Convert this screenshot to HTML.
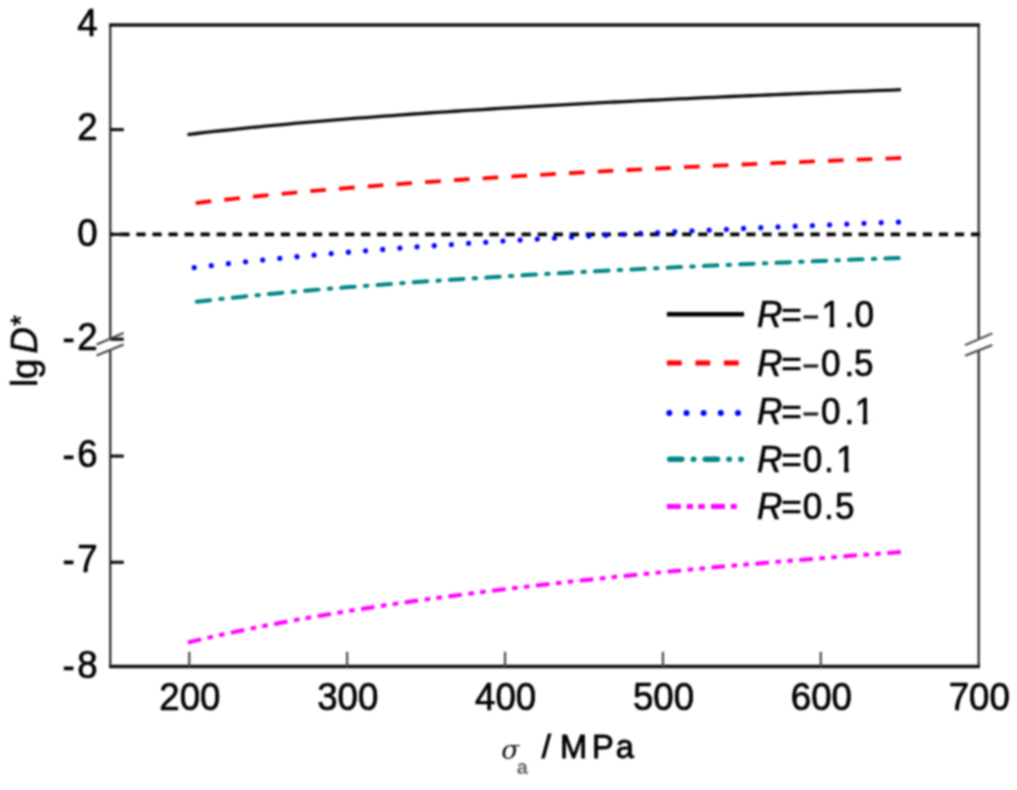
<!DOCTYPE html>
<html><head><meta charset="utf-8"><style>html,body{margin:0;padding:0;background:#fff;}svg{display:block;}</style></head>
<body>
<svg width="1017" height="790" viewBox="0 0 1017 790">
<rect width="100%" height="100%" fill="#fff"/>
<defs><filter id="bl" filterUnits="userSpaceOnUse" x="0" y="0" width="1017" height="790" color-interpolation-filters="sRGB"><feConvolveMatrix order="5" kernelMatrix="1 4 6 4 1 4 16 24 16 4 6 24 36 24 6 4 16 24 16 4 1 4 6 4 1" edgeMode="none"/></filter></defs>
<defs><clipPath id="no-foot" clipPathUnits="userSpaceOnUse"><rect x="-20" y="-60" width="60" height="55.8"/><rect x="8.4" y="-4.5" width="4.9" height="8.5"/></clipPath></defs>
<g filter="url(#bl)">
<line x1="110.3" y1="234.40" x2="981.5" y2="234.40" stroke="#000" stroke-width="3.6" stroke-dasharray="9.2 6.85" stroke-dashoffset="6.00"/>
<path d="M187.50,134.56 L196.42,133.50 L205.34,132.47 L214.26,131.47 L223.18,130.49 L232.09,129.54 L241.01,128.61 L249.93,127.70 L258.85,126.81 L267.77,125.95 L276.69,125.10 L285.61,124.27 L294.52,123.46 L303.44,122.67 L312.36,121.89 L321.28,121.13 L330.20,120.38 L339.12,119.65 L348.04,118.93 L356.96,118.23 L365.88,117.54 L374.79,116.86 L383.71,116.19 L392.63,115.54 L401.55,114.89 L410.47,114.26 L419.39,113.63 L428.31,113.02 L437.23,112.42 L446.14,111.82 L455.06,111.24 L463.98,110.66 L472.90,110.10 L481.82,109.54 L490.74,108.99 L499.66,108.44 L508.57,107.91 L517.49,107.38 L526.41,106.86 L535.33,106.35 L544.25,105.84 L553.17,105.34 L562.09,104.85 L571.01,104.36 L579.92,103.88 L588.84,103.40 L597.76,102.93 L606.68,102.47 L615.60,102.01 L624.52,101.56 L633.44,101.11 L642.36,100.67 L651.27,100.24 L660.19,99.81 L669.11,99.38 L678.03,98.96 L686.95,98.54 L695.87,98.13 L704.79,97.72 L713.71,97.32 L722.62,96.92 L731.54,96.52 L740.46,96.13 L749.38,95.74 L758.30,95.36 L767.22,94.98 L776.14,94.60 L785.06,94.23 L793.98,93.86 L802.89,93.50 L811.81,93.14 L820.73,92.78 L829.65,92.42 L838.57,92.07 L847.49,91.72 L856.41,91.38 L865.33,91.04 L874.24,90.70 L883.16,90.36 L892.08,90.03 L901.00,89.70" fill="none" stroke="#111" stroke-width="3.3"/>
<path d="M195.70,203.06 L204.52,202.01 L213.34,200.99 L222.16,199.99 L230.98,199.02 L239.81,198.08 L248.63,197.15 L257.45,196.25 L266.27,195.37 L275.09,194.50 L283.91,193.66 L292.73,192.83 L301.56,192.02 L310.38,191.23 L319.20,190.45 L328.02,189.69 L336.84,188.95 L345.66,188.21 L354.48,187.49 L363.30,186.79 L372.12,186.09 L380.95,185.41 L389.77,184.74 L398.59,184.08 L407.41,183.44 L416.23,182.80 L425.05,182.17 L433.87,181.56 L442.70,180.95 L451.52,180.35 L460.34,179.76 L469.16,179.18 L477.98,178.61 L486.80,178.05 L495.62,177.50 L504.44,176.95 L513.26,176.41 L522.09,175.88 L530.91,175.35 L539.73,174.83 L548.55,174.32 L557.37,173.82 L566.19,173.32 L575.01,172.83 L583.84,172.34 L592.66,171.86 L601.48,171.39 L610.30,170.92 L619.12,170.46 L627.94,170.00 L636.76,169.55 L645.58,169.10 L654.40,168.66 L663.23,168.23 L672.05,167.80 L680.87,167.37 L689.69,166.95 L698.51,166.53 L707.33,166.12 L716.15,165.71 L724.97,165.30 L733.80,164.90 L742.62,164.50 L751.44,164.11 L760.26,163.72 L769.08,163.34 L777.90,162.96 L786.72,162.58 L795.55,162.21 L804.37,161.84 L813.19,161.47 L822.01,161.11 L830.83,160.75 L839.65,160.39 L848.47,160.04 L857.29,159.69 L866.12,159.34 L874.94,159.00 L883.76,158.66 L892.58,158.32 L901.40,157.98" fill="none" stroke="#f00" stroke-width="3.8" stroke-linecap="butt" stroke-dasharray="15.637 13.171"/>
<path d="M194.20,267.63 L203.00,266.57 L211.81,265.54 L220.61,264.53 L229.41,263.55 L238.22,262.59 L247.02,261.66 L255.83,260.75 L264.63,259.85 L273.43,258.98 L282.24,258.13 L291.04,257.29 L299.84,256.48 L308.65,255.67 L317.45,254.89 L326.26,254.12 L335.06,253.37 L343.86,252.62 L352.67,251.90 L361.47,251.18 L370.27,250.48 L379.08,249.79 L387.88,249.12 L396.69,248.45 L405.49,247.80 L414.29,247.16 L423.10,246.52 L431.90,245.90 L440.70,245.29 L449.51,244.68 L458.31,244.09 L467.12,243.50 L475.92,242.93 L484.72,242.36 L493.53,241.80 L502.33,241.24 L511.13,240.70 L519.94,240.16 L528.74,239.63 L537.55,239.11 L546.35,238.59 L555.15,238.08 L563.96,237.58 L572.76,237.08 L581.56,236.59 L590.37,236.11 L599.17,235.63 L607.98,235.16 L616.78,234.69 L625.58,234.23 L634.39,233.77 L643.19,233.32 L651.99,232.88 L660.80,232.44 L669.60,232.00 L678.41,231.57 L687.21,231.14 L696.01,230.72 L704.82,230.30 L713.62,229.89 L722.42,229.48 L731.23,229.08 L740.03,228.68 L748.84,228.28 L757.64,227.89 L766.44,227.50 L775.25,227.12 L784.05,226.74 L792.86,226.36 L801.66,225.99 L810.46,225.62 L819.27,225.25 L828.07,224.89 L836.87,224.53 L845.68,224.17 L854.48,223.82 L863.28,223.47 L872.09,223.12 L880.89,222.77 L889.70,222.43 L898.50,222.10" fill="none" stroke="#00f" stroke-width="5.3" stroke-linecap="round" stroke-dasharray="0.010 17.206"/>
<path d="M196.70,301.77 L205.48,300.75 L214.27,299.76 L223.05,298.79 L231.83,297.85 L240.62,296.93 L249.40,296.04 L258.19,295.16 L266.97,294.30 L275.75,293.47 L284.54,292.65 L293.32,291.85 L302.11,291.06 L310.89,290.29 L319.67,289.54 L328.46,288.80 L337.24,288.07 L346.02,287.36 L354.81,286.66 L363.59,285.98 L372.38,285.30 L381.16,284.64 L389.94,283.99 L398.73,283.35 L407.51,282.72 L416.29,282.10 L425.08,281.49 L433.86,280.89 L442.64,280.30 L451.43,279.72 L460.21,279.15 L469.00,278.59 L477.78,278.03 L486.56,277.49 L495.35,276.95 L504.13,276.41 L512.91,275.89 L521.70,275.37 L530.48,274.86 L539.27,274.36 L548.05,273.86 L556.83,273.37 L565.62,272.89 L574.40,272.41 L583.18,271.94 L591.97,271.47 L600.75,271.01 L609.54,270.55 L618.32,270.10 L627.10,269.66 L635.89,269.22 L644.67,268.78 L653.45,268.35 L662.24,267.93 L671.02,267.51 L679.81,267.09 L688.59,266.68 L697.37,266.28 L706.16,265.87 L714.94,265.48 L723.72,265.08 L732.51,264.69 L741.29,264.31 L750.08,263.93 L758.86,263.55 L767.64,263.17 L776.43,262.80 L785.21,262.43 L794.00,262.07 L802.78,261.71 L811.56,261.35 L820.35,261.00 L829.13,260.65 L837.91,260.30 L846.70,259.96 L855.48,259.62 L864.27,259.28 L873.05,258.95 L881.83,258.61 L890.62,258.29 L899.40,257.96" fill="none" stroke="#008585" stroke-width="4" stroke-linecap="round" stroke-dasharray="13.545 10.184 2.508 10.084"/>
<path d="M187.90,642.52 L196.82,640.39 L205.74,638.31 L214.66,636.28 L223.57,634.31 L232.49,632.39 L241.41,630.51 L250.33,628.68 L259.25,626.89 L268.17,625.14 L277.09,623.44 L286.01,621.76 L294.93,620.13 L303.84,618.53 L312.76,616.96 L321.68,615.42 L330.60,613.92 L339.52,612.44 L348.44,610.99 L357.36,609.57 L366.27,608.17 L375.19,606.80 L384.11,605.45 L393.03,604.13 L401.95,602.83 L410.87,601.55 L419.79,600.29 L428.71,599.05 L437.62,597.84 L446.54,596.64 L455.46,595.46 L464.38,594.29 L473.30,593.15 L482.22,592.02 L491.14,590.91 L500.06,589.81 L508.98,588.73 L517.89,587.67 L526.81,586.62 L535.73,585.58 L544.65,584.56 L553.57,583.55 L562.49,582.55 L571.41,581.57 L580.33,580.60 L589.24,579.64 L598.16,578.69 L607.08,577.76 L616.00,576.83 L624.92,575.92 L633.84,575.02 L642.76,574.13 L651.67,573.25 L660.59,572.38 L669.51,571.51 L678.43,570.66 L687.35,569.82 L696.27,568.99 L705.19,568.16 L714.11,567.35 L723.02,566.54 L731.94,565.74 L740.86,564.95 L749.78,564.17 L758.70,563.40 L767.62,562.63 L776.54,561.87 L785.46,561.12 L794.38,560.38 L803.29,559.64 L812.21,558.91 L821.13,558.19 L830.05,557.47 L838.97,556.76 L847.89,556.06 L856.81,555.36 L865.73,554.67 L874.64,553.99 L883.56,553.31 L892.48,552.64 L901.40,551.97" fill="none" stroke="#f0f" stroke-width="4" stroke-linecap="butt" stroke-dasharray="13.588 6.541 5.577 6.287 5.577 6.541"/>
<g stroke="#111" fill="none">
<line x1="109.1" y1="25.0" x2="979.9000000000001" y2="25.0" stroke-width="3.6"/>
<line x1="109.1" y1="666.5" x2="979.9000000000001" y2="666.5" stroke-width="3.6"/>
<line x1="110.3" y1="25.0" x2="110.3" y2="339.6" stroke-width="2"/>
<line x1="110.3" y1="350.0" x2="110.3" y2="665.8" stroke-width="2"/>
<line x1="978.7" y1="25.0" x2="978.7" y2="338.6" stroke-width="2"/>
<line x1="978.7" y1="350.0" x2="978.7" y2="665.8" stroke-width="2"/>
<line x1="110.3" y1="129.60" x2="123.8" y2="129.60" stroke-width="3.2"/>
<line x1="110.3" y1="234.40" x2="123.8" y2="234.40" stroke-width="3.2"/>
<line x1="110.3" y1="339.20" x2="123.8" y2="339.20" stroke-width="3.2"/>
<line x1="110.3" y1="456.10" x2="123.8" y2="456.10" stroke-width="3.2"/>
<line x1="110.3" y1="562.30" x2="123.8" y2="562.30" stroke-width="3.2"/>
<line x1="189.25" y1="666.5" x2="189.25" y2="651.8" stroke-width="2.4" stroke="#555"/>
<line x1="347.14" y1="666.5" x2="347.14" y2="651.8" stroke-width="2.4" stroke="#555"/>
<line x1="505.03" y1="666.5" x2="505.03" y2="651.8" stroke-width="2.4" stroke="#555"/>
<line x1="662.92" y1="666.5" x2="662.92" y2="651.8" stroke-width="2.4" stroke="#555"/>
<line x1="820.81" y1="666.5" x2="820.81" y2="651.8" stroke-width="2.4" stroke="#555"/>
</g>
<g stroke="#444" stroke-width="2.1" fill="none">
<line x1="96.6" y1="344.5" x2="123.6" y2="333.0"/>
<line x1="96.6" y1="355.5" x2="123.6" y2="344.5"/>
<line x1="965.1" y1="345.1" x2="992.3" y2="333.4"/>
<line x1="965.1" y1="355.8" x2="992.3" y2="345.1"/>
</g>
<line x1="666.9" y1="314.2" x2="744" y2="314.2" stroke="#000" stroke-width="4.6"/>
<line x1="666.9" y1="363.0" x2="740" y2="363.0" stroke="#f00" stroke-width="5" stroke-dasharray="14.8 13.7"/>
<line x1="669.3" y1="413.0" x2="740" y2="413.0" stroke="#00f" stroke-width="6" stroke-linecap="round" stroke-dasharray="0.01 17.15"/>
<line x1="669.6" y1="459.2" x2="741.3" y2="459.2" stroke="#008585" stroke-width="5.4" stroke-linecap="round" stroke-dasharray="12.3 11.4 0.5 11.4"/>
<line x1="666.9" y1="506.4" x2="736.7" y2="506.4" stroke="#f0f" stroke-width="5" stroke-dasharray="13.9 5.9 6.3 5.3 6.5 6.2"/>
</g>
<g font-family="Liberation Sans, Arial, sans-serif" fill="#000" stroke="#000" stroke-width="0.7" filter="url(#bl)">
<text transform="translate(97.70,35.80) scale(0.965,1)" font-size="38" text-anchor="end">4</text>
<text transform="translate(97.70,140.40) scale(0.965,1)" font-size="38" text-anchor="end">2</text>
<text transform="translate(97.70,246.20) scale(0.965,1)" font-size="38" text-anchor="end">0</text>
<text transform="translate(0,350.00) scale(0.965,1)" font-size="38"><tspan x="64.87" dy="1">-</tspan><tspan x="80.12" dy="-1">2</tspan></text>
<text transform="translate(0,467.40) scale(0.965,1)" font-size="38"><tspan x="64.87" dy="1">-</tspan><tspan x="80.12" dy="-1">6</tspan></text>
<text transform="translate(0,571.75) scale(0.965,1)" font-size="38"><tspan x="64.87" dy="1">-</tspan><tspan x="80.12" dy="-1">7</tspan></text>
<text transform="translate(0,677.60) scale(0.965,1)" font-size="38"><tspan x="64.87" dy="1">-</tspan><tspan x="80.12" dy="-1">8</tspan></text>
<text transform="translate(189.85,710.00) scale(0.965,1)" font-size="38" text-anchor="middle">200</text>
<text transform="translate(347.74,710.00) scale(0.965,1)" font-size="38" text-anchor="middle">300</text>
<text transform="translate(505.63,710.00) scale(0.965,1)" font-size="38" text-anchor="middle">400</text>
<text transform="translate(663.52,710.00) scale(0.965,1)" font-size="38" text-anchor="middle">500</text>
<text transform="translate(821.41,710.00) scale(0.965,1)" font-size="38" text-anchor="middle">600</text>
<text transform="translate(979.30,710.00) scale(0.965,1)" font-size="38" text-anchor="middle">700</text>
</g>
<g font-family="Liberation Sans, Arial, sans-serif" font-size="37" fill="#000" stroke="#000" stroke-width="0.7" filter="url(#bl)">
<text transform="translate(0,326.5) scale(0.95,1)"><tspan x="796.84" font-style="italic">R</tspan><tspan x="822.32">=</tspan><tspan x="844.84" font-size="30" fill="#222">−</tspan></text><text transform="translate(821.60,326.5) scale(0.95,1)" clip-path="url(#no-foot)">1</text><text transform="translate(0,326.5) scale(0.95,1)"><tspan x="889.05">.</tspan><tspan x="899.58">0</tspan></text>
<text transform="translate(0,375.5) scale(0.95,1)"><tspan x="796.84" font-style="italic">R</tspan><tspan x="822.32">=</tspan><tspan x="844.84" font-size="30" fill="#222">−</tspan><tspan x="864.21">0</tspan><tspan x="889.05">.</tspan><tspan x="898.95">5</tspan></text>
<text transform="translate(0,424.4) scale(0.95,1)"><tspan x="796.84" font-style="italic">R</tspan><tspan x="822.32">=</tspan><tspan x="844.84" font-size="30" fill="#222">−</tspan><tspan x="864.21">0</tspan><tspan x="889.05">.</tspan></text><text transform="translate(854.70,424.4) scale(0.95,1)" clip-path="url(#no-foot)">1</text><text transform="translate(0,424.4) scale(0.95,1)"></text>
<text transform="translate(0,471.5) scale(0.95,1)"><tspan x="796.84" font-style="italic">R</tspan><tspan x="822.32">=</tspan><tspan x="844.95">0</tspan><tspan x="867.37">.</tspan></text><text transform="translate(836.10,471.5) scale(0.95,1)" clip-path="url(#no-foot)">1</text><text transform="translate(0,471.5) scale(0.95,1)"></text>
<text transform="translate(0,519.3) scale(0.95,1)"><tspan x="796.84" font-style="italic">R</tspan><tspan x="822.32">=</tspan><tspan x="844.95">0</tspan><tspan x="867.37">.</tspan><tspan x="878.95">5</tspan></text>
</g>
<g filter="url(#bl)" fill="#000">
<text transform="translate(37.3,387) rotate(-90)" font-family="Liberation Sans, Arial, sans-serif" font-size="36.5" stroke="#000" stroke-width="0.6">lg<tspan font-style="italic" dx="5">D</tspan><tspan font-size="27" dx="1.5" dy="-7">*</tspan></text>
<text x="501.2" y="758.6" font-family="DejaVu Serif, serif" font-style="italic" font-size="26.5" fill="#111">σ</text>
<text transform="translate(516.80,774.20) scale(0.95,1)" font-size="21" text-anchor="start" font-family="Liberation Sans, Arial, sans-serif" fill="#666" font-weight="bold">a</text>
<text transform="translate(0,758.2) scale(0.96,1)" font-family="Liberation Sans, Arial, sans-serif" font-size="34" stroke="#000" stroke-width="0.85"><tspan x="564.27" stroke="#000" stroke-width="1">/ </tspan><tspan x="583.44">M</tspan><tspan x="616.77">P</tspan><tspan x="641.46">a</tspan></text>
</g>
</svg>
</body></html>
